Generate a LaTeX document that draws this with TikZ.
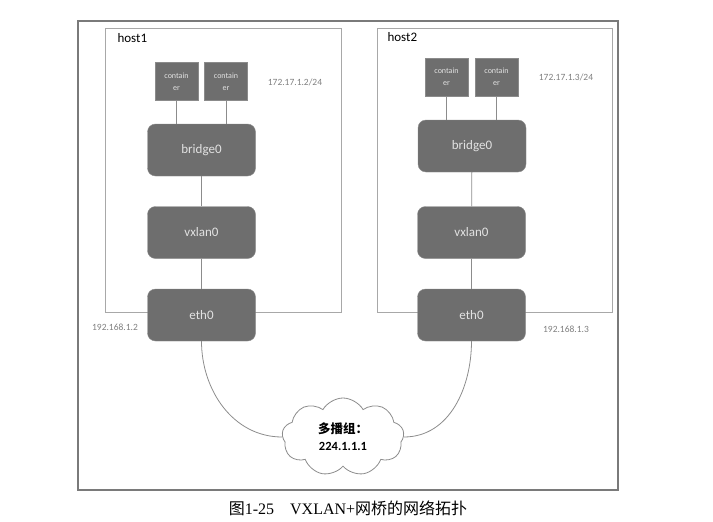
\documentclass[tikz,border=0pt]{standalone}
\usepackage{fontspec}
\setmainfont{Carlito}
\newfontfamily\cjk{Noto Sans CJK SC}
\newfontfamily\capserif{Liberation Serif}
\usepackage{xcolor}
\usetikzlibrary{shapes,shapes.symbols,positioning,calc}
\definecolor{boxgray}{HTML}{6E6E6E}
\definecolor{boxtext}{HTML}{E2E2E2}
\definecolor{framegray}{HTML}{7A7A7A}
\definecolor{hostgray}{HTML}{A8A8A8}
\definecolor{wiregray}{HTML}{8C8C8C}
\definecolor{labelgray}{HTML}{7F7F7F}

\tikzset{
  devbox/.style={draw=boxgray!80, fill=boxgray, rounded corners=8pt, text=boxtext,
    minimum width=108pt, minimum height=52pt, font=\fontsize{13}{15}\selectfont},
  ctbox/.style={draw=boxgray!80, fill=boxgray, text=boxtext, align=center,
    minimum width=43pt, minimum height=38pt, inner sep=0pt,
    font=\fontsize{8}{12}\selectfont},
  hostbox/.style={draw=hostgray, line width=1pt, minimum width=#1, minimum height=284pt, inner sep=0pt},
  wire/.style={draw=wiregray, line width=0.8pt},
  iplabel/.style={text=labelgray, font=\fontsize{9.5}{11}\selectfont},
}

\begin{document}
\begin{tikzpicture}[x=1pt, y=1pt]
    \useasboundingbox (0,0) rectangle (713,-522);
    \node (frame) [draw=framegray, line width=1.2pt, minimum width=540pt, minimum height=469pt, inner sep=0pt] at (348,-255.5) {};

    % host boxes
    \node (host1) [hostbox=236pt] at (223,-170) {};
    \node (host2) [hostbox=235pt] at (494.5,-170) {};
    \node (h1name) [anchor=west, font=\fontsize{13}{15}\selectfont] at (114,-38) {host1};
    \node (h2name) [anchor=west, font=\fontsize{13}{15}\selectfont] at (384,-37) {host2};

    % host1
    \node (c11) [ctbox] at (176.5,-81.5) {contain\\er};
    \node (c12) [ctbox] at (226,-81.5) {contain\\er};
    \node (ip11) [iplabel] at (295,-82) {172.17.1.2/24};
    \node (b1) [devbox] at (201.5,-150) {bridge0};
    \node (v1) [devbox] at (201.5,-232.5) {vxlan0};
    \node (e1) [devbox] at (201.5,-315) {eth0};
    \node (ip12) [iplabel] at (115,-327) {192.168.1.2};

    % host2
    \node (c21) [ctbox] at (446.5,-77) {contain\\er};
    \node (c22) [ctbox] at (496.5,-77) {contain\\er};
    \node (ip21) [iplabel] at (566,-77) {172.17.1.3/24};
    \node (b2) [devbox] at (472,-146) {bridge0};
    \node (v2) [devbox] at (471.5,-232.5) {vxlan0};
    \node (e2) [devbox] at (471.5,-315) {eth0};
    \node (ip22) [iplabel] at (566,-329) {192.168.1.3};

    % multicast group
    \node (mcast) [cloud, cloud puffs=9, cloud puff arc=120, aspect=1.5, draw=wiregray, line width=0.8pt, fill=white,
      minimum width=122pt, minimum height=78pt, inner sep=0pt, align=center,
      font=\fontsize{12.5}{17}\selectfont\bfseries] at (343,-437)
      {{\cjk\bfseries 多播组：}\\224.1.1.1};

    \draw[wire] (c11) -- (c11 |- b1.north);
    \draw[wire] (c12) -- (c12 |- b1.north);
    \draw[wire] (b1) -- (v1);
    \draw[wire] (v1) -- (e1);
    \draw[wire] (c21) -- (c21 |- b2.north);
    \draw[wire] (c22) -- (c22 |- b2.north);
    \draw[wire] (b2) -- (v2);
    \draw[wire] (v2) -- (e2);
    \draw[wire] (e1.south) to[out=-90, in=180] (mcast.west);
    \draw[wire] (e2.south) to[out=-90, in=0] (mcast.east);

    % caption
    \node (caption) [font=\fontsize{16}{18}\selectfont] at (348,-508)
      {{\cjk 图}\capserif 1-25\quad VXLAN+{\cjk 网桥的网络拓扑}};
\end{tikzpicture}
\end{document}
